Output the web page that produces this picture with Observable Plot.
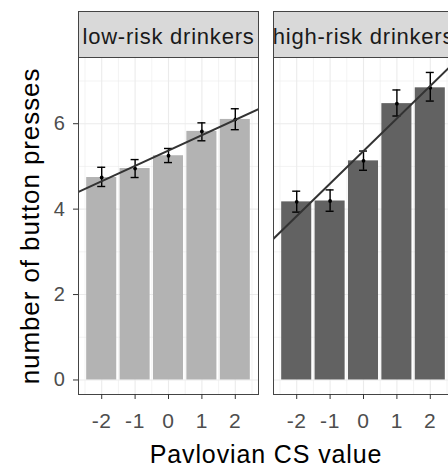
<!DOCTYPE html>
<html><head><meta charset="utf-8">
<script src="https://cdn.jsdelivr.net/npm/d3@7"></script>
<script src="https://cdn.jsdelivr.net/npm/@observablehq/plot@0.6"></script>
<style>
html,body{margin:0;padding:0;background:#fff;overflow:hidden;width:448px;height:466px}
#chart{width:454px;height:466px}
#chart svg{max-width:none !important;width:454px;height:466px}
#chart svg text{letter-spacing:0.035em}
</style></head><body><div id="chart"></div>
<script>
const csValues = [-2, -1, 0, 1, 2];
const groups = ["low-risk drinkers", "high-risk drinkers"];
const lowMean = [4.74, 4.95, 5.25, 5.82, 6.10];
const lowLo   = [4.53, 4.74, 5.09, 5.60, 5.86];
const lowHi   = [4.98, 5.16, 5.42, 6.02, 6.35];
const highMean = [4.17, 4.19, 5.13, 6.47, 6.84];
const highLo   = [3.93, 3.95, 4.91, 6.18, 6.53];
const highHi   = [4.42, 4.45, 5.36, 6.79, 7.20];
const yTicks = [0, 2, 4, 6];
const yMinor = [1, 3, 5, 7];
const xMinor = [-2.5, -1.5, -0.5, 0.5, 1.5, 2.5];

const series = {
  "low-risk drinkers": [lowMean, lowLo, lowHi],
  "high-risk drinkers": [highMean, highLo, highHi]
};
const data = groups.flatMap(g => csValues.map((x, i) => ({
  group: g, x, mean: series[g][0][i], lo: series[g][1][i], hi: series[g][2][i]
})));

const barHalf = 0.45, capHalf = 0.12;
const xDomain = [-2.695, 2.695];
const yDomain = [-0.34, 7.55];

// least-squares fit per group
const lineData = groups.flatMap(g => {
  const ys = series[g][0];
  const mx = d3.mean(csValues), my = d3.mean(ys);
  const b = d3.sum(csValues, (x, i) => (x - mx) * (ys[i] - my)) / d3.sum(csValues, x => (x - mx) ** 2);
  const a = my - b * mx;
  return xDomain.map(x => ({group: g, x, y: a + b * x}));
});

const W = 454, H = 466, mT = 57, mB = 72, mL = 77;
const panelH = H - mT - mB;

const chart = Plot.plot({
  width: W, height: H,
  marginLeft: mL, marginRight: 0, marginTop: mT, marginBottom: mB,
  style: {fontFamily: "'Liberation Sans', Arial, sans-serif", background: "white", overflow: "visible"},
  fx: {domain: groups, axis: null, paddingInner: 0.0765, paddingOuter: 0, label: null},
  x: {domain: xDomain, label: null},
  y: {domain: yDomain, label: null},
  color: {domain: groups, range: ["#b3b3b3", "#626262"]},
  marks: [
    Plot.gridY({ticks: yMinor, stroke: "#ebebeb", strokeOpacity: 1, strokeWidth: 0.6}),
    Plot.gridX({ticks: xMinor, stroke: "#ebebeb", strokeOpacity: 1, strokeWidth: 0.6}),
    Plot.gridY({ticks: yTicks, stroke: "#ebebeb", strokeOpacity: 1, strokeWidth: 1.1}),
    Plot.gridX({ticks: csValues, stroke: "#ebebeb", strokeOpacity: 1, strokeWidth: 1.1}),
    Plot.rectY(data, {fx: "group", x1: d => d.x - barHalf, x2: d => d.x + barHalf, y: "mean", fill: "group"}),
    Plot.ruleX(data, {fx: "group", x: "x", y1: "lo", y2: "hi", stroke: "black", strokeWidth: 1.4}),
    Plot.ruleY(data, {fx: "group", y: "lo", x1: d => d.x - capHalf, x2: d => d.x + capHalf, stroke: "black", strokeWidth: 1.4}),
    Plot.ruleY(data, {fx: "group", y: "hi", x1: d => d.x - capHalf, x2: d => d.x + capHalf, stroke: "black", strokeWidth: 1.4}),
    Plot.dot(data, {fx: "group", x: "x", y: "mean", r: 1.9, fill: "black"}),
    Plot.line(lineData, {fx: "group", x: "x", y: "y", z: "group", stroke: "#333", strokeWidth: 2, clip: true}),
    Plot.frame({stroke: "#444", strokeWidth: 1}),
    Plot.frame({fill: "#d9d9d9", stroke: "#444", strokeWidth: 1, insetTop: -46, insetBottom: panelH}),
    Plot.text(groups, {fx: d => d, text: d => d, frameAnchor: "top", lineAnchor: "middle", dy: -21, fontSize: 22, fill: "#1a1a1a"}),
    Plot.axisY({ticks: yTicks, tickSize: 5, tickPadding: 8, fontSize: 20, stroke: "#333", fill: "#4d4d4d", label: null, tickFormat: d => String(d)}),
    Plot.axisX({ticks: csValues, tickSize: 5, tickPadding: 14, fontSize: 21, stroke: "#333", fill: "#4d4d4d", label: null, tickFormat: d => String(d)}),
    Plot.text(["Pavlovian CS value"], {text: d => d, frameAnchor: "bottom", textAnchor: "middle", lineAnchor: "middle", dy: 60, fontSize: 25, fill: "black", facet: "super"}),
    Plot.text(["number of button presses"], {text: d => d, frameAnchor: "left", textAnchor: "middle", lineAnchor: "middle", rotate: -90, dx: -48, fontSize: 26, fill: "black", facet: "super"})
  ]
});
document.getElementById("chart").appendChild(chart);
</script></body></html>
